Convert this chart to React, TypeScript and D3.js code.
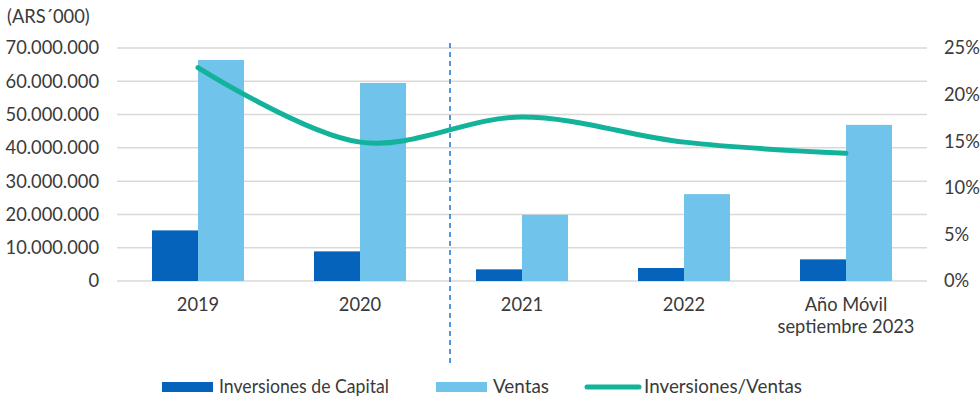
import React from "react";
import * as d3 from "d3";

const categories = ["2019", "2020", "2021", "2022", "Año Móvil|septiembre 2023"];
const inversiones = [15200000, 8900000, 3500000, 3900000, 6500000];
const ventas = [66400000, 59500000, 19900000, 26100000, 46900000];
const ratio = [0.229, 0.149, 0.176, 0.149, 0.137];
const leftTicks = [0, 10000000, 20000000, 30000000, 40000000, 50000000, 60000000, 70000000];
const rightTicks = [0, 0.05, 0.1, 0.15, 0.2, 0.25];
const seriesNames = ["Inversiones de Capital", "Ventas", "Inversiones/Ventas"];

const W = 980, H = 400;
const M = { left: 117, right: 927, top: 48, bottom: 281 };
const C_DARK = "#0563bb";
const C_LIGHT = "#70c3ea";
const C_LINE = "#12b39a";
const C_TEXT = "#3a3a3a";
const FONT = "Lato, 'Open Sans', sans-serif";
const FS = 18.3;

export default function App() {
  const x = d3.scaleBand().domain(categories).range([M.left, M.right]).paddingInner(0).paddingOuter(0);
  const inner = d3.scaleBand().domain(["inv", "ven"]).range([0, 92]);
  const groupOff = (x.bandwidth() - 92) / 2;
  const yL = d3.scaleLinear().domain([0, 70000000]).range([M.bottom, M.top]);
  const yR = d3.scaleLinear().domain([0, 0.25]).range([M.bottom, M.top]);
  const fmt = (v: number) => (v === 0 ? "0" : d3.format(",")(v).replace(/,/g, "."));
  const cx = (c: string) => (x(c) as number) + x.bandwidth() / 2;
  const line = d3
    .line<number>()
    .x((_, i) => cx(categories[i]))
    .y((d) => yR(d))
    .curve(d3.curveCatmullRom.alpha(0.5));
  const dashX = (cx(categories[1]) + cx(categories[2])) / 2 + 9;

  return (
    <svg width={W} height={H} style={{ position: "absolute", left: 0, top: 0 }} fontFamily={FONT}>
      <rect width={W} height={H} fill="#fff" />
      <text x={7} y={23} fontSize={FS} fill={C_TEXT}>(ARS´000)</text>
      {leftTicks.map((t) => (
        <g key={t}>
          <line x1={M.left} x2={M.right} y1={yL(t)} y2={yL(t)} stroke="#d9d9d9" strokeWidth={1.5} />
          <text x={99} y={yL(t)} dy="0.35em" textAnchor="end" fontSize={FS} fill={C_TEXT}>{fmt(t)}</text>
        </g>
      ))}
      {rightTicks.map((t) => (
        <text key={t} x={944} y={yR(t)} dy="0.35em" fontSize={FS} fill={C_TEXT}>{d3.format(".0%")(t)}</text>
      ))}
      {categories.map((c, i) => {
        const x0 = (x(c) as number) + groupOff;
        return (
          <g key={c}>
            <rect x={x0 + (inner("inv") as number)} width={inner.bandwidth()} y={yL(inversiones[i])} height={yL(0) - yL(inversiones[i])} fill={C_DARK} />
            <rect x={x0 + (inner("ven") as number)} width={inner.bandwidth()} y={yL(ventas[i])} height={yL(0) - yL(ventas[i])} fill={C_LIGHT} />
            {c.split("|").map((s, k) => (
              <text key={k} x={cx(c)} y={305 + k * 22} dy="0.35em" textAnchor="middle" fontSize={FS} fill={C_TEXT}>{s}</text>
            ))}
          </g>
        );
      })}
      <line x1={dashX} x2={dashX} y1={43} y2={367} stroke="#1a73d4" strokeWidth={1.5} strokeDasharray="5 4" />
      <path d={line(ratio) || ""} fill="none" stroke={C_LINE} strokeWidth={5} strokeLinecap="round" />
      <g fontSize={FS} fill={C_TEXT}>
        <rect x={162} y={382} width={51} height={10} fill={C_DARK} />
        <text x={219} y={387} dy="0.35em" textLength={170} lengthAdjust="spacingAndGlyphs">{seriesNames[0]}</text>
        <rect x={436} y={382} width={51} height={10} fill={C_LIGHT} />
        <text x={493} y={387} dy="0.35em" textLength={56} lengthAdjust="spacingAndGlyphs">{seriesNames[1]}</text>
        <line x1={587} x2={639} y1={387} y2={387} stroke={C_LINE} strokeWidth={5} strokeLinecap="round" />
        <text x={644} y={387} dy="0.35em" textLength={158} lengthAdjust="spacingAndGlyphs">{seriesNames[2]}</text>
      </g>
    </svg>
  );
}
